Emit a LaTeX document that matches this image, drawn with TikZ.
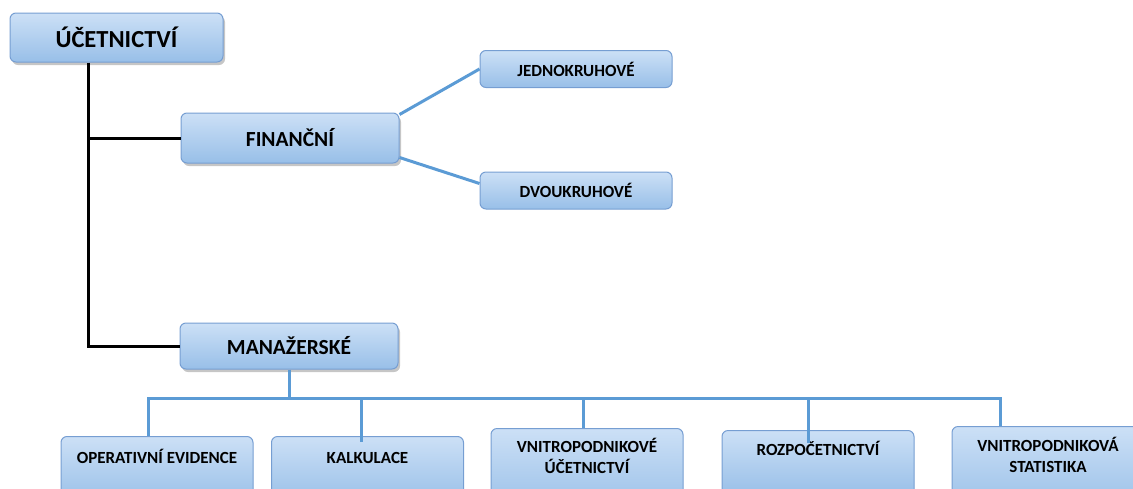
\documentclass[tikz,border=0pt]{standalone}
\usepackage{fontspec}
\setmainfont{Carlito}
\usetikzlibrary{shadows}
\definecolor{boxtop}{RGB}{204,224,246}
\definecolor{boxbot}{RGB}{152,191,232}
\definecolor{boxline}{RGB}{118,158,210}
\definecolor{linkblue}{RGB}{91,155,213}

\begin{document}
\begin{tikzpicture}[x=1pt,y=-1pt,
   box/.style={draw=boxline,line width=1pt,rounded corners=6pt,top color=boxtop,bottom color=boxbot,
      font=\bfseries,align=center,inner sep=0pt},
   headbox/.style={box,drop shadow={shadow xshift=2pt,shadow yshift=-3pt,opacity=.45}},
   subbox/.style={box,minimum width=192pt,minimum height=37pt,font=\bfseries\fontsize{17}{20}\selectfont},
   lowbox/.style={box,anchor=north,minimum width=192pt,text height=#1,text depth=40pt,
      font=\bfseries\fontsize{17}{21}\selectfont},
   blackln/.style={line width=3pt,black},
   blueln/.style={line width=3pt,linkblue}]
   \clip (0,0) rectangle (1133,488);

   \node[headbox,minimum width=213pt,minimum height=49pt,font=\bfseries\fontsize{24.5}{28}\selectfont] (uc) at (116.5,37.5) {ÚČETNICTVÍ};
   \node[headbox,minimum width=218pt,minimum height=50pt,font=\bfseries\fontsize{21.5}{25}\selectfont] (fin) at (290,138) {FINANČNÍ};
   \node[headbox,minimum width=218pt,minimum height=46pt,font=\bfseries\fontsize{21.5}{25}\selectfont] (man) at (289,346) {MANAŽERSKÉ};
   \node[subbox] (jedno) at (576,69) {JEDNOKRUHOVÉ};
   \node[subbox] (dvou) at (576,190.5) {DVOUKRUHOVÉ};

   \node[lowbox=27pt] (oper) at (157,436) {OPERATIVNÍ EVIDENCE};
   \node[lowbox=27pt] (kalk) at (367.5,436) {KALKULACE};
   \node[lowbox=45pt] (vnu) at (587,428) {VNITROPODNIKOVÉ\\ÚČETNICTVÍ};
   \node[lowbox=25pt] (rozp) at (818,430) {ROZPOČETNICTVÍ};
   \node[lowbox=46pt] (stat) at (1048,426) {VNITROPODNIKOVÁ\\STATISTIKA};

   \coordinate (t) at (88,0);
   \draw[blackln] (uc.south -| t) |- (man.west);
   \draw[blackln] (t |- fin.west) -- (fin.west);

   \draw[blueln] ([yshift=-2pt]fin.north east) -- (jedno.west);
   \draw[blueln] ([yshift=6pt]fin.south east) -- ([yshift=7pt]dvou.west);

   \coordinate (b1) at (148,398);
   \coordinate (b2) at (361,398);
   \coordinate (b3) at (583,398);
   \coordinate (b4) at (808,398);
   \coordinate (b5) at (1000,398);
   \draw[blueln] (man.south) -- (man.south |- b1);
   \draw[blueln,line cap=rect] (b1) -- (b5);
   \draw[blueln] (b1) -- (b1 |- oper.north);
   \draw[blueln] (b2) -- ([yshift=-6pt]b2 |- kalk.north);
   \draw[blueln] (b3) -- (b3 |- vnu.north);
   \draw[blueln] (b4) -- ([yshift=-13pt]b4 |- rozp.north);
   \draw[blueln] (b5) -- (b5 |- stat.north);
\end{tikzpicture}
\end{document}
